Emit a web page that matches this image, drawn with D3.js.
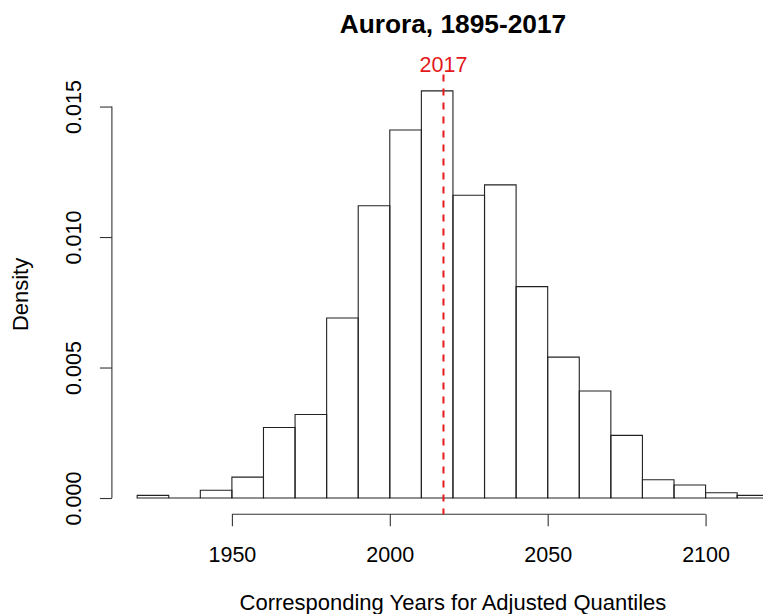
<!DOCTYPE html>
<html>
<head>
<meta charset="utf-8">
<script src="https://cdn.jsdelivr.net/npm/d3@7"></script>
<style>
  html, body { margin: 0; padding: 0; background: #fff; overflow: hidden; }
  text { font-family: "Liberation Sans", Arial, sans-serif; fill: #000; }
</style>
</head>
<body>
<svg id="chart" width="763" height="614"></svg>
<script>
// ---- data ----
const binStarts = [1920, 1930, 1940, 1950, 1960, 1970, 1980, 1990, 2000, 2010,
                   2020, 2030, 2040, 2050, 2060, 2070, 2080, 2090, 2100, 2110];
const binWidth = 10;
const densities = [0.0001, 0, 0.0003, 0.0008, 0.0027, 0.0032, 0.0069, 0.0112, 0.0141, 0.0156,
                   0.0116, 0.0120, 0.0081, 0.0054, 0.0041, 0.0024, 0.0007, 0.0005, 0.0002, 0.0001];
const xTicks = [1950, 2000, 2050, 2100];
const yTicks = [0.000, 0.005, 0.010, 0.015];
const markYear = 2017;
const markLabel = "2017";
const title = "Aurora, 1895-2017";
const xLabel = "Corresponding Years for Adjusted Quantiles";
const yLabel = "Density";

// ---- layout ----
const plot = { left: 111.9, right: 794, top: 74.6, bottom: 514.3 };
const svg = d3.select("#chart");

const xMin = d3.min(binStarts), xMax = d3.max(binStarts) + binWidth;
const xPad = (xMax - xMin) * 0.04;
const yMax = d3.max(densities);
const yPad = yMax * 0.04;

const x = d3.scaleLinear().domain([xMin - xPad, xMax + xPad]).range([plot.left, plot.right]);
const y = d3.scaleLinear().domain([-yPad, yMax + yPad]).range([plot.bottom, plot.top]);

const bins = binStarts.map((s, i) => ({ x0: s, x1: s + binWidth, d: densities[i] }));

// bars (as closed paths so zero-height bins still draw their baseline)
svg.append("g").selectAll("path").data(bins).join("path")
  .attr("d", d => {
    const l = x(d.x0), r = x(d.x1), t = y(d.d), b = y(0);
    return `M${l},${b}V${t}H${r}V${b}Z`;
  })
  .attr("fill", "none")
  .attr("stroke", "#222")
  .attr("stroke-width", 1.1);

const fs = 21.5;

// x axis
const xAxis = d3.axisBottom(x).tickValues(xTicks).tickFormat(d3.format("d")).tickSize(12).tickSizeOuter(0);
const gx = svg.append("g").attr("transform", `translate(0,${plot.bottom})`).call(xAxis);
gx.select(".domain").attr("d", `M${x(xTicks[0])},0H${x(xTicks[xTicks.length-1])}`)
  .attr("stroke", "#333").attr("stroke-width", 1.1);
gx.selectAll(".tick line").attr("stroke", "#333").attr("stroke-width", 1.1);
gx.selectAll(".tick text").attr("font-size", fs).attr("font-family", "Liberation Sans, Arial, sans-serif")
  .attr("fill", "#000").attr("y", 0).attr("dy", 0)
  .attr("transform", "translate(0,48)");

// y axis
const yAxis = d3.axisLeft(y).tickValues(yTicks).tickFormat(d3.format(".3f")).tickSize(12).tickSizeOuter(0);
const gy = svg.append("g").attr("transform", `translate(${plot.left},0)`).call(yAxis);
gy.select(".domain").attr("d", `M0,${y(yTicks[0])}V${y(yTicks[yTicks.length-1])}`)
  .attr("stroke", "#333").attr("stroke-width", 1.1);
gy.selectAll(".tick line").attr("stroke", "#333").attr("stroke-width", 1.1);
gy.selectAll(".tick text").attr("font-size", fs).attr("font-family", "Liberation Sans, Arial, sans-serif")
  .attr("fill", "#000").attr("x", 0).attr("dy", 0)
  .attr("text-anchor", "middle")
  .attr("transform", `translate(${80.5 - plot.left},0) rotate(-90)`);

// red dashed line
svg.append("line")
  .attr("x1", x(markYear)).attr("x2", x(markYear))
  .attr("y1", plot.top).attr("y2", plot.bottom)
  .attr("stroke", "#e3191c").attr("stroke-width", 2)
  .attr("stroke-dasharray", "7,7");

svg.append("text").attr("x", x(markYear)).attr("y", 72)
  .attr("text-anchor", "middle").attr("font-size", fs)
  .style("fill", "#e3191c").text(markLabel);

// title
const cx = (plot.left + plot.right) / 2;
svg.append("text").attr("x", cx).attr("y", 33)
  .attr("text-anchor", "middle").attr("font-size", 26.3).attr("font-weight", "bold")
  .text(title);

// axis labels
svg.append("text").attr("x", cx).attr("y", 610)
  .attr("text-anchor", "middle").attr("font-size", 22).text(xLabel);

svg.append("text")
  .attr("transform", `translate(27.5,${(plot.top + plot.bottom) / 2}) rotate(-90)`)
  .attr("text-anchor", "middle").attr("font-size", 22).text(yLabel);
</script>
</body>
</html>
